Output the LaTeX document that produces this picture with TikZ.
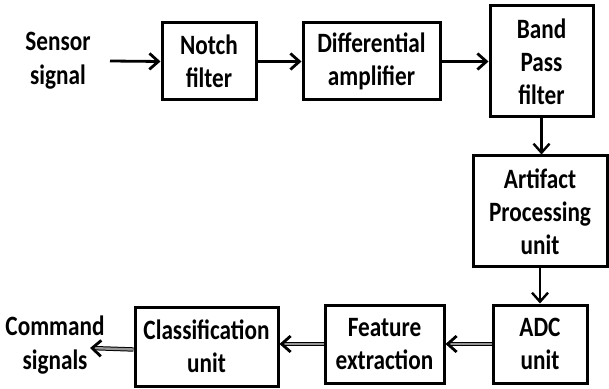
\documentclass[tikz,border=0pt]{standalone}
\usepackage{fontspec}
\setmainfont{Carlito}[FakeStretch=0.83]
\usepackage{tikz}
\usetikzlibrary{arrows.meta}
\definecolor{dblgray}{RGB}{150,150,150}

\tikzset{
  blk/.style={draw, line width=1.5pt, align=center, inner sep=1pt,
    font=\fontsize{14}{16.5}\selectfont\bfseries},
  lbl/.style={align=center, font=\fontsize{14}{17}\selectfont\bfseries},
  flow/.style={line width=1.4pt, -{Straight Barb[length=4.5pt,width=8pt,line width=1.4pt]}},
  vflow/.style={line width=1.1pt, -{Straight Barb[length=4.5pt,width=8pt,line width=1.2pt]}},
  dflow/.style={draw=black, line width=0.5pt, double=dblgray, double distance=1.2pt,
    -{Straight Barb[length=4.5pt,width=8pt,line width=1.4pt]}}
}

\begin{document}
\begin{tikzpicture}[x=0.5pt,y=-0.5pt]
\useasboundingbox (0,0) rectangle (609,389);

% Top row
\node[lbl] (sensor) at (58,61) {Sensor\\signal};
\coordinate (sin) at (110,61);
\node[blk, minimum width=47pt, minimum height=38.5pt] (notch) at (209,61.5) {Notch\\filter};
\node[blk, minimum width=68.5pt, minimum height=38.5pt] (diff) at (371.5,61.5) {Differential\\amplifier};
\node[blk, minimum width=51.5pt, minimum height=55.5pt] (band) at (541.5,61.5) {Band\\Pass\\filter};

% Right column
\node[blk, minimum width=67pt, minimum height=55.5pt] (artifact) at (540,211.5) {Artifact\\Processing\\unit};
\node[blk, minimum width=47pt, minimum height=39pt] (adc) at (540,344) {ADC\\unit};

% Bottom row
\node[blk, minimum width=59.5pt, minimum height=39pt] (feature) at (384.5,344) {Feature\\extraction};
\node[blk, minimum width=71.5pt, minimum height=39.5pt] (classif) at (206.5,346.5) {Classification\\unit};
\node[lbl] (command) at (55,345) {Command\\signals};
\coordinate (cout) at (90,348);

% Connectors
\draw[flow] (sin) -- (notch.west);
\draw[flow] (notch.east) -- (diff.west);
\draw[flow] (diff.east) -- (band.west);
\draw[vflow] (band.south) -- (band.south |- artifact.north);
\draw[vflow] (artifact.south) -- (adc.north);
\draw[dflow] (adc.west) -- (feature.east);
\draw[dflow] (feature.west) -- (feature.west -| classif.east);
\draw[dflow] ([yshift=-1.5pt]classif.west) -- (cout);
\end{tikzpicture}
\end{document}
